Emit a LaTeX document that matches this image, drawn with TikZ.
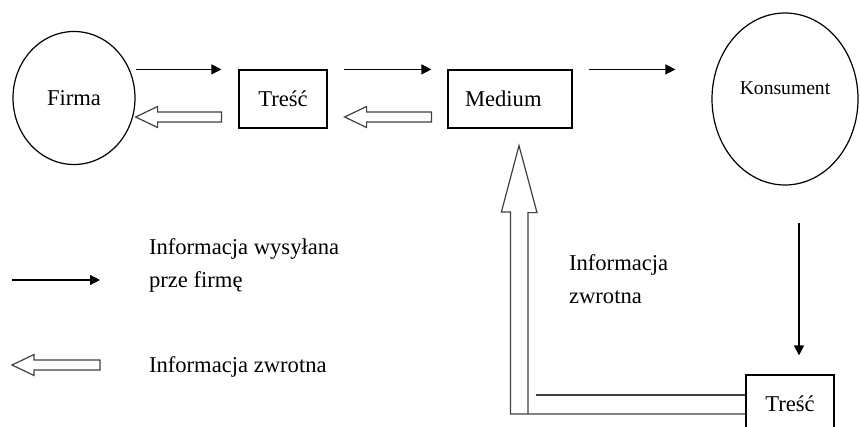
\documentclass[tikz,border=0pt]{standalone}
\usepackage{fontspec}
\setmainfont{Liberation Serif}
\usetikzlibrary{shapes.geometric,positioning,calc,arrows.meta}
% hollow arrow: tip, tail
\newcommand{\backarrow}[2]{\draw[hollow] (#1) -- ++(22,-10.5) -- ++(0,5.5) -- ($(#2)+(0,-5)$) -- ($(#2)+(0,5)$) -- ($(#1)+(22,5)$) -- ++(0,5.5) -- cycle;}

\begin{document}
\begin{tikzpicture}[x=0.5pt,y=-0.5pt,
  every node/.style={font=\fontsize{11.3}{16.5}\selectfont},
  circ/.style={draw,ellipse,line width=0.6pt,inner sep=0pt},
  box/.style={draw,rectangle,line width=0.6pt,minimum width=44pt,minimum height=29pt,inner sep=0pt},
  send/.style={line width=0.6pt,-{Triangle[length=5pt,width=5pt]}},
  hollow/.style={line width=0.6pt,draw=black!75}]
\clip (0,0) rectangle (860,427);

\node[circ,minimum width=61pt,minimum height=66.5pt] (firma) at (74,98) {Firma};
\node[box] (tresc1) at (283,99) {Treść};
\node[box,text width=45pt,inner xsep=8.5pt,align=left] (medium) at (510,99) {Medium};
\node[circ,minimum width=73pt,minimum height=86pt,
  label={[yshift=5.5pt,font=\fontsize{9.8}{12}\selectfont]center:Konsument}] (konsument) at (785,99) {};
\node[box] (tresc2) at (790,404) {Treść};

% forward
\draw[send] (firma.east |- tresc1.north) -- (tresc1.north west) [shorten >=8.5pt];
\draw[send,shorten <=8pt,shorten >=8pt] (tresc1.north east) -- (medium.north west);
\draw[send,shorten <=8pt,shorten >=18pt] (medium.north east) -- (medium.north east -| konsument.west);
\draw[send,shorten <=18.5pt,shorten >=9.5pt] ([xshift=4.5pt]tresc2.north |- konsument.south) -- ([xshift=4.5pt]tresc2.north);

% back
\backarrow{[yshift=-9.5pt]firma.east}{[xshift=-8.5pt,yshift=-9pt]tresc1.west}
\backarrow{[xshift=8.5pt,yshift=-9pt]tresc1.east}{[xshift=-8pt,yshift=-9pt]medium.west}

\coordinate (fbtip) at ([xshift=4.5pt,yshift=-8.5pt]medium.south);
\draw[hollow] ([yshift=-5pt]tresc2.west) -- ++(-235,0) -- ++(0,-202) -- ++(-9,0) -- (fbtip) -- ++(18,67) -- ++(-9,0) -- ++(0,202);
\draw[hollow] ([yshift=4.5pt]tresc2.west) -- ++(-209,0);
\node[anchor=west,align=left] (fbtxt) at (562,279) {Informacja\\zwrotna};

% legend
\coordinate (legA1) at (12,280);
\coordinate (legA2) at (100,280);
\draw[send] (legA1) -- (legA2);
\node[anchor=west,align=left] (legtxtA) at (142,265) {Informacja wysyłana\\prze firmę};
\coordinate (legB1) at (12,365);
\coordinate (legB2) at (100,365);
\backarrow{legB1}{legB2}
\node[anchor=west] (legtxtB) at (142,367) {Informacja zwrotna};
\end{tikzpicture}
\end{document}
